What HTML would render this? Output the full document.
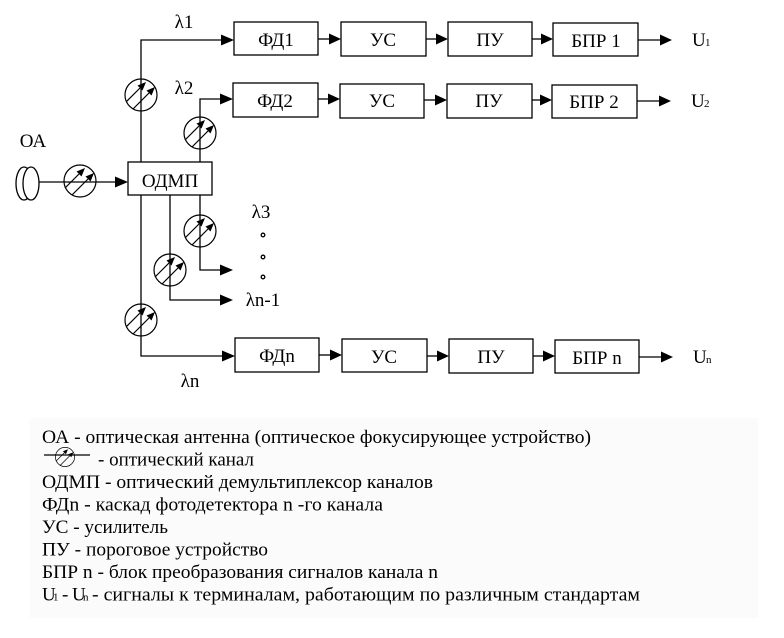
<!DOCTYPE html>
<html><head><meta charset="utf-8"><style>
html,body{margin:0;padding:0;background:#fff;}
svg{display:block;}
text{font-family:"Liberation Serif","Noto Serif CJK SC",serif;fill:#000;}
</style></head><body>
<svg width="784" height="638" viewBox="0 0 784 638" xmlns="http://www.w3.org/2000/svg">
<defs>
<g id="ch">
<circle r="16" fill="none" stroke="#000" stroke-width="1.2"/>
<line x1="-14.5" y1="6.5" x2="-1" y2="-7" stroke="#000" stroke-width="1.2"/>
<polygon points="5,-13 1.5,-4.5 -3.5,-9.5" fill="#000"/>
<line x1="-8" y1="14" x2="8" y2="-2" stroke="#000" stroke-width="1.2"/>
<polygon points="14,-8 10.5,0.5 5.5,-4.5" fill="#000"/>
</g>
</defs>
<rect width="784" height="638" fill="#fff"/>
<rect x="30" y="418" width="728" height="200" fill="#fbfbfb"/>

<g stroke="#000" stroke-width="1.3" fill="none">
<ellipse cx="24" cy="183.5" rx="8" ry="16.5" fill="#fff"/>
<ellipse cx="31" cy="183.5" rx="8" ry="16.5" fill="#fff"/>
<line x1="39" y1="182" x2="118" y2="182"/>
<rect x="128" y="162" width="84" height="33" fill="#fff"/>
<polyline points="141,162 141,40 224,40"/>
<polyline points="200,162 200,99 223,99"/>
<polyline points="200,195 200,270 222,270"/>
<polyline points="170,195 170,300 222,300"/>
<polyline points="141,195 141,356 224,356"/>

<rect x="234" y="22" width="84" height="33"/>
<rect x="341" y="22" width="85" height="34"/>
<rect x="448" y="22" width="84" height="34"/>
<rect x="553" y="23" width="85" height="33"/>
<line x1="318" y1="39" x2="331" y2="39"/>
<line x1="426" y1="39" x2="438" y2="39"/>
<line x1="532" y1="39" x2="543" y2="39"/>
<line x1="638" y1="40" x2="662" y2="40"/>

<rect x="233" y="83" width="85" height="34"/>
<rect x="340" y="84" width="84" height="34"/>
<rect x="447" y="84" width="85" height="34"/>
<rect x="552" y="85" width="85" height="33"/>
<line x1="318" y1="99" x2="330" y2="99"/>
<line x1="424" y1="100" x2="437" y2="100"/>
<line x1="532" y1="100" x2="542" y2="100"/>
<line x1="637" y1="101" x2="661" y2="101"/>

<rect x="235" y="338" width="84" height="34"/>
<rect x="342" y="339" width="85" height="33"/>
<rect x="449" y="339" width="84" height="34"/>
<rect x="555" y="340" width="84" height="33"/>
<line x1="319" y1="355" x2="332" y2="355"/>
<line x1="427" y1="356" x2="439" y2="356"/>
<line x1="533" y1="356" x2="545" y2="356"/>
<line x1="639" y1="357" x2="663" y2="357"/>

<circle cx="263" cy="235" r="1.8"/>
<circle cx="263" cy="257" r="1.8"/>
<circle cx="263" cy="277" r="1.8"/>

<line x1="44" y1="455" x2="90" y2="455"/>
</g>

<g fill="#000">
<polygon points="128,182 115,176.5 115,187.5"/>
<polygon points="234,40 221,34.5 221,45.5"/>
<polygon points="233,99 220,93.5 220,104.5"/>
<polygon points="233,270 220,264.5 220,275.5"/>
<polygon points="233,300 220,294.5 220,305.5"/>
<polygon points="235,356 222,350.5 222,361.5"/>

<polygon points="341,39 329,33.5 329,44.5"/>
<polygon points="448,39 436,33.5 436,44.5"/>
<polygon points="553,39 541,33.5 541,44.5"/>
<polygon points="672,40 660,34.5 660,45.5"/>

<polygon points="340,99 328,93.5 328,104.5"/>
<polygon points="447,100 435,94.5 435,105.5"/>
<polygon points="552,100 540,94.5 540,105.5"/>
<polygon points="671,101 659,95.5 659,106.5"/>

<polygon points="342,355 330,349.5 330,360.5"/>
<polygon points="449,356 437,350.5 437,361.5"/>
<polygon points="555,356 543,350.5 543,361.5"/>
<polygon points="673,357 661,351.5 661,362.5"/>
</g>

<use href="#ch" transform="translate(80,181)"/>
<use href="#ch" transform="translate(141,95)"/>
<use href="#ch" transform="translate(200,133)"/>
<use href="#ch" transform="translate(200,231)"/>
<use href="#ch" transform="translate(170,270)"/>
<use href="#ch" transform="translate(141,320)"/>
<use href="#ch" transform="translate(65,457) scale(0.6)"/>

<g font-size="19" text-anchor="middle">
<text x="170" y="187">ОДМП</text>
<text x="33" y="147">ОА</text>
<text x="184" y="28">λ1</text>
<text x="184" y="94">λ2</text>
<text x="261" y="218">λ3</text>
<text x="263" y="306">λn-1</text>
<text x="190" y="387">λn</text>

<text x="276" y="46">ФД1</text>
<text x="383" y="46">УС</text>
<text x="490" y="46">ПУ</text>
<text x="596" y="47">БПР 1</text>

<text x="275" y="107">ФД2</text>
<text x="382" y="107">УС</text>
<text x="489" y="107">ПУ</text>
<text x="594" y="108">БПР 2</text>

<text x="277" y="362">ФДn</text>
<text x="384" y="363">УС</text>
<text x="491" y="363">ПУ</text>
<text x="597" y="364">БПР n</text>
</g>
<g font-size="19">
<text x="692" y="46">U</text><text x="705" y="46" font-size="11">1</text>
<text x="691" y="107">U</text><text x="704" y="107" font-size="11">2</text>
<text x="693" y="363">U</text><text x="706" y="363" font-size="11">n</text>
</g>

<g font-size="19">
<text x="42" y="443" textLength="549" lengthAdjust="spacingAndGlyphs">ОА - оптическая антенна (оптическое фокусирующее устройство)</text>
<text x="98" y="465.5" textLength="156" lengthAdjust="spacingAndGlyphs">- оптический канал</text>
<text x="42" y="488" textLength="391" lengthAdjust="spacingAndGlyphs">ОДМП - оптический демультиплексор каналов</text>
<text x="42" y="510.5" textLength="341" lengthAdjust="spacingAndGlyphs">ФДn - каскад фотодетектора n -го канала</text>
<text x="42" y="533" textLength="126" lengthAdjust="spacingAndGlyphs">УС - усилитель</text>
<text x="42" y="555.5" textLength="226" lengthAdjust="spacingAndGlyphs">ПУ - пороговое устройство</text>
<text x="42" y="578" textLength="396" lengthAdjust="spacingAndGlyphs">БПР n - блок преобразования сигналов канала n</text>
<text x="42" y="600.5">U</text>
<text x="53" y="600.5" font-size="11">1</text>
<text x="62" y="600.5">-</text>
<text x="72" y="600.5">U</text>
<text x="83" y="600.5" font-size="11">n</text>
<text x="92" y="600.5" textLength="548" lengthAdjust="spacingAndGlyphs">- сигналы к терминалам, работающим по различным стандартам</text>
</g>
</svg>
</body></html>
